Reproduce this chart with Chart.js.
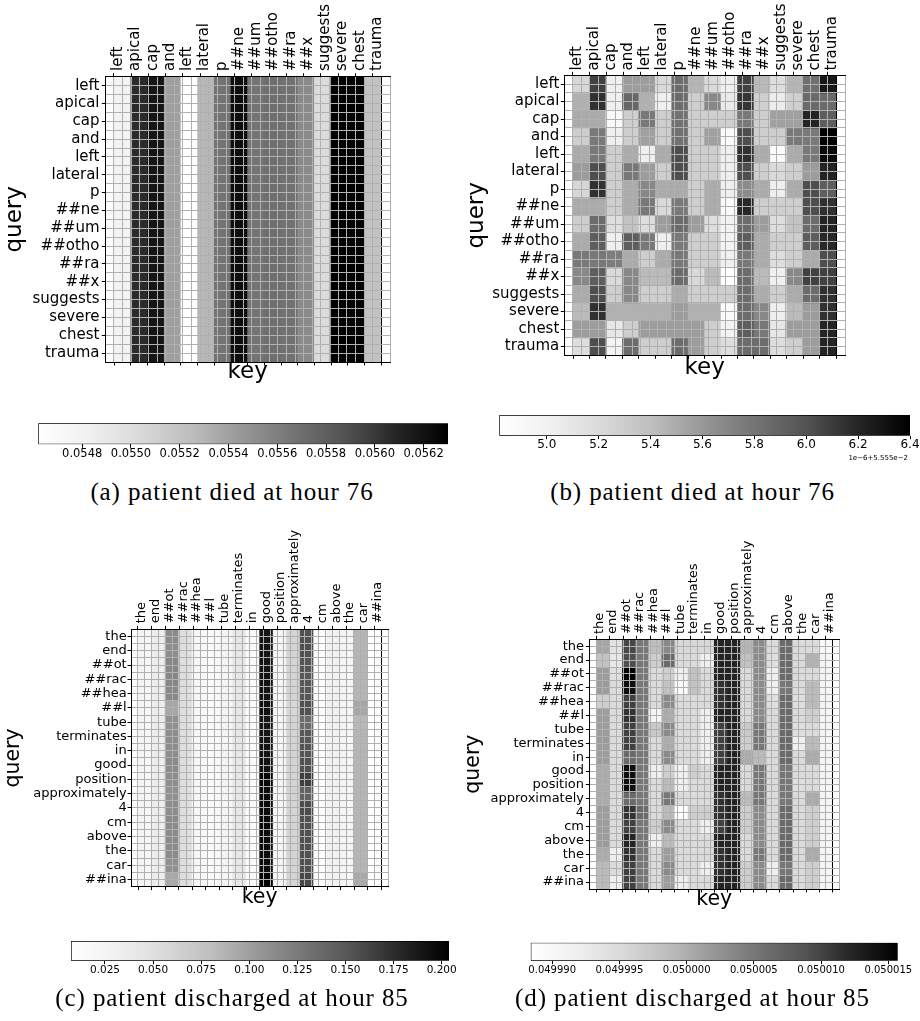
<!DOCTYPE html>
<html><head><meta charset="utf-8">
<script src="https://cdn.jsdelivr.net/npm/chart.js@4.4.0/dist/chart.umd.min.js"></script>
<style>
html,body{margin:0;padding:0;background:#fff;}
#root{position:relative;width:920px;height:1021px;overflow:hidden;background:#fff;}
canvas{position:absolute;}
.cap{position:absolute;font-family:"Liberation Serif",serif;font-size:25px;line-height:25px;letter-spacing:0.9px;color:#000;white-space:nowrap;transform:translateX(-50%);}
.off{position:absolute;font-family:"DejaVu Sans",sans-serif;font-size:7px;line-height:8px;color:#000;white-space:nowrap;transform:translateX(-100%);}
</style></head><body><div id="root"></div>
<script>
// ---------------- DATA ----------------
const tokensAB = ['left','apical','cap','and','left','lateral','p','##ne','##um','##otho','##ra','##x','suggests','severe','chest','trauma'];
const tokensCD = ['the','end','##ot','##rac','##hea','##l','tube','terminates','in','good','position','approximately','4','cm','above','the','car','##ina'];

// (a) attention weights (rows = query, cols = key)
const attnA = [
[0.05479,0.05606,0.05618,0.05541,0.05462,0.05528,0.05567,0.05622,0.05567,0.05570,0.05568,0.05553,0.05502,0.05630,0.05629,0.05521],
[0.05479,0.05606,0.05618,0.05541,0.05462,0.05528,0.05567,0.05622,0.05567,0.05570,0.05568,0.05553,0.05502,0.05630,0.05629,0.05521],
[0.05479,0.05606,0.05618,0.05541,0.05462,0.05528,0.05567,0.05622,0.05567,0.05570,0.05568,0.05553,0.05502,0.05630,0.05629,0.05521],
[0.05479,0.05606,0.05618,0.05541,0.05462,0.05528,0.05567,0.05622,0.05567,0.05570,0.05568,0.05553,0.05502,0.05630,0.05629,0.05521],
[0.05479,0.05606,0.05618,0.05541,0.05462,0.05528,0.05567,0.05622,0.05567,0.05570,0.05568,0.05553,0.05502,0.05630,0.05629,0.05521],
[0.05479,0.05606,0.05618,0.05541,0.05462,0.05528,0.05567,0.05622,0.05567,0.05570,0.05568,0.05553,0.05502,0.05630,0.05629,0.05521],
[0.05479,0.05606,0.05618,0.05541,0.05462,0.05528,0.05567,0.05622,0.05567,0.05570,0.05568,0.05553,0.05502,0.05630,0.05629,0.05521],
[0.05479,0.05606,0.05618,0.05541,0.05462,0.05528,0.05567,0.05622,0.05567,0.05570,0.05568,0.05553,0.05502,0.05630,0.05629,0.05521],
[0.05479,0.05606,0.05618,0.05541,0.05462,0.05528,0.05567,0.05622,0.05567,0.05570,0.05568,0.05553,0.05502,0.05630,0.05629,0.05521],
[0.05479,0.05606,0.05618,0.05541,0.05462,0.05528,0.05567,0.05622,0.05567,0.05570,0.05568,0.05553,0.05502,0.05630,0.05629,0.05521],
[0.05479,0.05606,0.05618,0.05541,0.05462,0.05528,0.05567,0.05622,0.05567,0.05570,0.05568,0.05553,0.05502,0.05630,0.05629,0.05521],
[0.05479,0.05606,0.05618,0.05541,0.05462,0.05528,0.05567,0.05622,0.05567,0.05570,0.05568,0.05553,0.05502,0.05630,0.05629,0.05521],
[0.05479,0.05606,0.05618,0.05541,0.05462,0.05528,0.05567,0.05622,0.05567,0.05570,0.05568,0.05553,0.05502,0.05630,0.05629,0.05521],
[0.05479,0.05606,0.05618,0.05541,0.05462,0.05528,0.05567,0.05622,0.05567,0.05570,0.05568,0.05553,0.05502,0.05630,0.05629,0.05521],
[0.05479,0.05606,0.05618,0.05541,0.05462,0.05528,0.05567,0.05622,0.05567,0.05570,0.05568,0.05553,0.05502,0.05630,0.05629,0.05521],
[0.05479,0.05606,0.05618,0.05541,0.05462,0.05528,0.05567,0.05622,0.05567,0.05570,0.05568,0.05553,0.05502,0.05630,0.05629,0.05521]
];
const rangeA = [0.05462, 0.05630];
const cbTicksA = [0.0548,0.0550,0.0552,0.0554,0.0556,0.0558,0.0560,0.0562];

// (b) attention weights, in units of 1e-6 with offset 5.555e-2
const attnB = [
[5.23,6.08,5.01,5.58,5.58,5.20,5.85,5.45,5.20,5.01,6.08,5.43,5.17,5.45,5.83,6.27],
[5.47,6.15,5.01,5.88,5.47,5.01,5.85,5.29,5.69,5.07,6.13,5.28,5.05,5.28,5.86,5.86],
[5.50,5.50,4.90,5.29,5.77,5.29,5.81,5.29,5.29,5.29,5.77,5.29,5.56,5.56,6.21,5.93],
[5.29,5.77,5.02,5.29,5.56,5.29,5.81,5.29,5.56,4.88,6.02,5.29,5.29,5.77,5.77,6.40],
[5.50,5.77,5.29,5.50,5.02,5.50,6.02,5.29,5.29,5.02,6.15,5.50,4.88,5.50,5.77,6.35],
[5.58,6.02,5.29,5.78,5.58,5.29,6.02,5.29,5.29,5.02,6.02,5.29,5.20,5.29,5.58,6.21],
[5.23,6.15,5.29,5.50,5.69,5.50,5.50,5.29,5.50,5.02,5.67,5.50,5.02,5.50,6.02,5.93],
[5.50,5.50,5.29,5.50,5.77,5.20,5.77,5.29,5.50,4.88,6.19,5.29,5.29,5.29,6.02,6.15],
[5.29,5.85,5.17,5.37,5.17,5.58,5.85,5.58,5.17,4.98,5.85,5.58,5.17,5.37,5.85,6.21],
[5.50,5.93,5.02,5.93,5.77,5.02,5.77,5.29,5.29,4.98,5.93,5.50,5.29,5.29,5.93,6.19],
[5.78,5.78,5.75,5.50,5.29,5.50,5.78,5.29,5.29,5.01,5.78,5.50,5.17,5.29,5.50,6.02],
[5.69,5.93,5.20,5.69,5.42,5.42,5.85,5.20,5.42,4.817,5.85,5.42,5.01,5.69,6.08,6.08],
[5.50,6.02,5.29,5.69,5.29,5.29,5.50,5.29,5.29,5.29,5.85,5.50,5.29,5.50,5.85,6.15],
[5.42,6.15,5.47,5.47,5.47,5.47,5.58,5.47,5.47,4.88,5.85,5.69,5.02,5.42,5.58,6.15],
[5.58,5.58,5.09,5.29,5.58,5.58,5.58,5.58,5.29,4.98,5.93,5.78,5.09,5.58,5.58,6.21],
[5.17,6.02,4.98,5.85,5.29,5.29,5.85,5.58,5.29,5.17,5.85,5.85,5.17,5.29,5.58,6.21]
];
const rangeB = [4.817, 6.40];
const cbTicksB = [5.0,5.2,5.4,5.6,5.8,6.0,6.2,6.4];
const offsetTextB = '1e\u22126+5.555e\u22122';

// (c) attention weights
const attnC = [
[0.023,0.035,0.113,0.051,0.021,0.015,0.023,0.041,0.015,0.190,0.023,0.060,0.155,0.012,0.029,0.023,0.086,0.008],
[0.023,0.035,0.112,0.051,0.021,0.015,0.023,0.041,0.015,0.190,0.023,0.060,0.156,0.012,0.029,0.023,0.086,0.008],
[0.023,0.035,0.116,0.051,0.021,0.015,0.023,0.041,0.015,0.191,0.023,0.060,0.152,0.012,0.029,0.023,0.086,0.008],
[0.023,0.035,0.117,0.051,0.021,0.015,0.023,0.041,0.015,0.192,0.023,0.060,0.150,0.012,0.029,0.023,0.086,0.008],
[0.023,0.035,0.115,0.051,0.021,0.015,0.023,0.041,0.015,0.190,0.023,0.060,0.150,0.012,0.029,0.023,0.086,0.008],
[0.023,0.035,0.095,0.051,0.021,0.015,0.023,0.041,0.015,0.193,0.023,0.058,0.155,0.014,0.031,0.023,0.095,0.009],
[0.024,0.035,0.110,0.051,0.021,0.015,0.026,0.041,0.015,0.188,0.023,0.060,0.135,0.012,0.029,0.023,0.084,0.008],
[0.023,0.035,0.112,0.051,0.021,0.015,0.023,0.041,0.015,0.190,0.023,0.060,0.150,0.012,0.029,0.023,0.086,0.008],
[0.023,0.035,0.112,0.051,0.021,0.015,0.023,0.041,0.015,0.191,0.023,0.060,0.152,0.012,0.029,0.023,0.086,0.008],
[0.023,0.035,0.113,0.051,0.021,0.015,0.023,0.041,0.015,0.192,0.023,0.060,0.155,0.012,0.029,0.023,0.086,0.008],
[0.023,0.035,0.112,0.051,0.021,0.015,0.023,0.041,0.015,0.200,0.023,0.060,0.165,0.012,0.029,0.023,0.086,0.008],
[0.023,0.035,0.110,0.051,0.021,0.015,0.023,0.041,0.015,0.195,0.023,0.062,0.143,0.012,0.029,0.023,0.086,0.008],
[0.023,0.035,0.112,0.051,0.021,0.015,0.023,0.041,0.015,0.197,0.023,0.060,0.158,0.012,0.029,0.023,0.086,0.008],
[0.023,0.035,0.113,0.051,0.021,0.015,0.023,0.041,0.015,0.198,0.023,0.060,0.155,0.012,0.029,0.023,0.086,0.008],
[0.023,0.035,0.113,0.051,0.021,0.015,0.023,0.041,0.015,0.197,0.023,0.060,0.155,0.012,0.029,0.023,0.086,0.008],
[0.023,0.035,0.113,0.051,0.021,0.015,0.023,0.041,0.015,0.196,0.023,0.060,0.155,0.012,0.029,0.023,0.086,0.008],
[0.023,0.035,0.110,0.051,0.021,0.015,0.023,0.041,0.015,0.195,0.023,0.060,0.155,0.012,0.029,0.023,0.086,0.008],
[0.023,0.035,0.095,0.051,0.021,0.015,0.023,0.041,0.015,0.2035,0.023,0.060,0.160,0.012,0.029,0.023,0.094,0.0073]
];
const rangeC = [0.00733, 0.2038];
const cbTicksC = [0.025,0.050,0.075,0.100,0.125,0.150,0.175,0.200];

// (d) attention weights
const attnD = [
[0.0500007,0.0499939,0.0500097,0.0500051,0.0499985,0.0500034,0.0499953,0.0499953,0.0499953,0.0500124,0.0500124,0.0499993,0.0500032,0.0499950,0.0500064,0.0499950,0.0499950,0.0499898],
[0.0499980,0.0499931,0.0500092,0.0500051,0.0499966,0.0500064,0.0499950,0.0499950,0.0499917,0.0500124,0.0500124,0.0499980,0.0500032,0.0499944,0.0500064,0.0499950,0.0499996,0.0499906],
[0.0500015,0.0499944,0.0500157,0.0500051,0.0499950,0.0499966,0.0499917,0.0499980,0.0499950,0.0500124,0.0500124,0.0499950,0.0500032,0.0499920,0.0500064,0.0499950,0.0499950,0.0499906],
[0.0500015,0.0499950,0.0500143,0.0500051,0.0499950,0.0499980,0.0499895,0.0499980,0.0499950,0.0500113,0.0500124,0.0499950,0.0500032,0.0499917,0.0500051,0.0499950,0.0499988,0.0499906],
[0.0499966,0.0499950,0.0500102,0.0500051,0.0499950,0.0500032,0.0499950,0.0499950,0.0499950,0.0500113,0.0500124,0.0499950,0.0500032,0.0499944,0.0500064,0.0499944,0.0499988,0.0499906],
[0.0500015,0.0499950,0.0500113,0.0500051,0.0499906,0.0500002,0.0499950,0.0499950,0.0499917,0.0500124,0.0500124,0.0499950,0.0500032,0.0499950,0.0500064,0.0499950,0.0499966,0.0499906],
[0.0500015,0.0499950,0.0500102,0.0500051,0.0499972,0.0500032,0.0499950,0.0499950,0.0499917,0.0500102,0.0500124,0.0499972,0.0500051,0.0499950,0.0500064,0.0499944,0.0499950,0.0499906],
[0.0500015,0.0499950,0.0500102,0.0500051,0.0499950,0.0500002,0.0499950,0.0499950,0.0499920,0.0500102,0.0500124,0.0499966,0.0500051,0.0499950,0.0500064,0.0499920,0.0499988,0.0499906],
[0.0500015,0.0499950,0.0500064,0.0500051,0.0499950,0.0500032,0.0499950,0.0499950,0.0499920,0.0500102,0.0500124,0.0500002,0.0499988,0.0499950,0.0500064,0.0499950,0.0500002,0.0499906],
[0.0500002,0.0499950,0.0500143,0.0500051,0.0499920,0.0499966,0.0499917,0.0499966,0.0499950,0.0500124,0.0500124,0.0499950,0.0500051,0.0499950,0.0500051,0.0499950,0.0499950,0.0499906],
[0.0500002,0.0499950,0.0500143,0.0500051,0.0499950,0.0499988,0.0499920,0.0499950,0.0499950,0.0500124,0.0500124,0.0499950,0.0500051,0.0499950,0.0500051,0.0499944,0.0499950,0.0499906],
[0.0500002,0.0499950,0.0500064,0.0500051,0.0499950,0.0500051,0.0499950,0.0499950,0.0499950,0.0500113,0.0500124,0.0499988,0.0500051,0.0499950,0.0500051,0.0499950,0.0500002,0.0499906],
[0.0500015,0.0499950,0.0500113,0.0500064,0.0499950,0.0499988,0.0499884,0.0499966,0.0499966,0.0500113,0.0500124,0.0499966,0.0500032,0.0499950,0.0500064,0.0499950,0.0499966,0.0499906],
[0.0500015,0.0499950,0.0500102,0.0500051,0.0499966,0.0500032,0.0499950,0.0499950,0.0499920,0.0500102,0.0500124,0.0499966,0.0500032,0.0499950,0.0500064,0.0499950,0.0499966,0.0499906],
[0.0500015,0.0499950,0.0500124,0.0500051,0.0499920,0.0499988,0.0499950,0.0499950,0.0499950,0.0500124,0.0500124,0.0499950,0.0500032,0.0499950,0.0500064,0.0499950,0.0499966,0.0499906],
[0.0500002,0.0499920,0.0500113,0.0500051,0.0499950,0.0500015,0.0499950,0.0499950,0.0499950,0.0500113,0.0500124,0.0499950,0.0500051,0.0499950,0.0500064,0.0499950,0.0500002,0.0499906],
[0.0499988,0.0499950,0.0500102,0.0500051,0.0499950,0.0500032,0.0499950,0.0499950,0.0499920,0.0500113,0.0500124,0.0499966,0.0500032,0.0499920,0.0500051,0.0499950,0.0499966,0.0499906],
[0.0499988,0.0499920,0.0500102,0.0500051,0.0499950,0.0500015,0.0499920,0.0499950,0.0499950,0.0500124,0.0500124,0.0499966,0.0500032,0.0499950,0.0500064,0.0499950,0.0499966,0.0499906]
];
const rangeD = [0.0499884, 0.0500157];
const cbTicksD = [0.049990,0.049995,0.050000,0.050005,0.050010,0.050015];

const captions = ['(a) patient died at hour 76','(b) patient died at hour 76','(c) patient discharged at hour 85','(d) patient discharged at hour 85'];

// ---------------- RENDERING ----------------
Chart.defaults.font.family = "'DejaVu Sans', sans-serif";
Chart.defaults.color = '#000';
const GREYS = [255,240,217,189,150,115,82,37,0]; // matplotlib "Greys"
function greys(t){
  t = Math.max(0, Math.min(1, t));
  const p = t*(GREYS.length-1);
  const k = Math.min(Math.floor(p), GREYS.length-2);
  const f = p-k;
  const g = Math.round(GREYS[k] + (GREYS[k+1]-GREYS[k])*f);
  return 'rgb('+g+','+g+','+g+')';
}
const root = document.getElementById('root');
function makeCanvas(b){
  const c = document.createElement('canvas');
  c.width = b.w; c.height = b.h;
  c.style.left = b.x+'px'; c.style.top = b.y+'px';
  c.style.width = b.w+'px'; c.style.height = b.h+'px';
  root.appendChild(c);
  return c;
}
function heatmap(o){
  const N = o.tokens.length;
  const halfSteps = []; for (let k=0;k<=2*N;k++) halfSteps.push(k/2);
  const centers = []; for (let k=0;k<N;k++) centers.push(k+0.5);
  const isCenter = v => Math.abs(v-Math.floor(v)-0.5) < 1e-9;
  const isEdge = v => v === 0 || v === N;
  const label = v => isCenter(v) ? o.tokens[Math.floor(v)] : '';
  const datasets = o.matrix.map((row,i) => ({
    label: o.tokens[i],
    data: row.map((v,j) => ({x: j+0.5, y: [i, i+1]})),
    backgroundColor: row.map(v => greys((v-o.range[0])/(o.range[1]-o.range[0]))),
    borderWidth: 0, grouped: false, barPercentage: 1, categoryPercentage: 1
  }));
  const tf = {family:"'DejaVu Sans'", size:o.tickFont};
  const ttl = {family:"'DejaVu Sans'", size:o.titleFont};
  const gridOpts = {
    drawOnChartArea: true, drawTicks: true, tickLength: 3.5, z: 1, lineWidth: 1,
    color: c => (c.tick && isEdge(c.tick.value)) ? '#000' : '#b0b0b0',
    tickColor: c => (c.tick && isCenter(c.tick.value)) ? '#000' : 'rgba(0,0,0,0)'
  };
  const borderOpts = {display:true, color:'#000', width:1, z:2};
  new Chart(makeCanvas(o.box), {
    type: 'bar',
    data: {datasets},
    options: {
      responsive:false, animation:false, events:[],
      layout:{padding:{left:0, top:0, bottom:0, right:o.padR}},
      plugins:{legend:{display:false}, tooltip:{enabled:false}},
      scales:{
        x:{type:'linear', position:'bottom', min:0, max:N,
           afterBuildTicks: s => { s.ticks = centers.map(v => ({value:v})); },
           afterFit: s => { s.height = o.botH; s.paddingLeft = 0; s.paddingRight = 0; },
           ticks:{autoSkip:false, maxRotation:0, callback:() => ''},
           grid:{drawOnChartArea:false, drawTicks:true, tickLength:3.5, tickColor:'#000', tickWidth:1},
           border: borderOpts,
           title:{display:true, text:'key', color:'#000', font:ttl, padding:{top:0, bottom:o.keyPad}}},
        xt:{type:'linear', position:'top', min:0, max:N,
           afterBuildTicks: s => { s.ticks = halfSteps.map(v => ({value:v})); },
           afterFit: s => { s.height = o.topH; s.paddingLeft = 0; s.paddingRight = 0; },
           ticks:{autoSkip:false, minRotation:90, maxRotation:90, padding:o.xPad, labelOffset:o.tickFont*1.2,
                  color:'#000', font:tf, callback: v => label(v)},
           grid: gridOpts, border: borderOpts},
        y:{type:'linear', position:'left', min:0, max:N, reverse:true,
           afterBuildTicks: s => { s.ticks = halfSteps.map(v => ({value:v})); },
           afterFit: s => { s.width = o.yW; s.paddingTop = 0; s.paddingBottom = 0; },
           ticks:{autoSkip:false, padding:o.yPad, color:'#000', font:tf, callback: v => label(v)},
           grid: gridOpts, border: borderOpts,
           title:{display:true, text:'query', color:'#000', font:ttl, padding:{top:o.queryPad, bottom:0}}}
      }
    }
  });
}
function colorbar(o){
  const grad = ctx => {
    const ch = ctx.chart, ca = ch.chartArea;
    if (!ca) return '#999';
    const g = ch.ctx.createLinearGradient(ca.left, 0, ca.right, 0);
    GREYS.forEach((c,k) => g.addColorStop(k/(GREYS.length-1), 'rgb('+c+','+c+','+c+')'));
    return g;
  };
  new Chart(makeCanvas(o.box), {
    type:'bar',
    data:{labels:['cb'], datasets:[{data:[[o.range[0], o.range[1]]], backgroundColor:grad,
          borderColor:'#000', borderWidth:1, borderSkipped:false, barPercentage:1, categoryPercentage:1}]},
    options:{
      indexAxis:'y', responsive:false, animation:false, events:[],
      layout:{padding:o.pad},
      plugins:{legend:{display:false}, tooltip:{enabled:false}},
      scales:{
        y:{display:false},
        x:{type:'linear', position:'bottom', min:o.range[0], max:o.range[1],
           afterBuildTicks: s => { s.ticks = o.ticks.map(v => ({value:v})); },
           afterFit: s => { s.height = o.botH; s.paddingLeft = 0; s.paddingRight = 0; },
           grid:{drawOnChartArea:false, drawTicks:true, tickLength:3.5, tickColor:'#000', tickWidth:1},
           border:{display:false},
           ticks:{autoSkip:false, maxRotation:0, minRotation:0, padding:o.tpad, color:'#000',
                  font:{family:"'DejaVu Sans'", size:o.fs, lineHeight:1}, callback: v => Number(v).toFixed(o.dec)}}
      }
    }
  });
}

heatmap({box:{x:0,y:0,w:400,h:395}, tokens:tokensAB, matrix:attnA, range:rangeA,
  yW:105.3, topH:76.7, botH:33, padR:10, tickFont:15, titleFont:23, xPad:2.2, yPad:2.3, keyPad:9.2, queryPad:1.2});
heatmap({box:{x:460,y:0,w:460,h:390}, tokens:tokensAB, matrix:attnB, range:rangeB,
  yW:104.3, topH:75.3, botH:34.7, padR:75, tickFont:15, titleFont:23, xPad:1.3, yPad:1.5, keyPad:8.5, queryPad:2.9});
heatmap({box:{x:0,y:530,w:400,h:385}, tokens:tokensCD, matrix:attnC, range:rangeC,
  yW:131, topH:99.3, botH:28.4, padR:11.7, tickFont:13, titleFont:20.5, xPad:2.5, yPad:0.8, keyPad:4.8, queryPad:1.3});
heatmap({box:{x:460,y:530,w:460,h:385}, tokens:tokensCD, matrix:attnD, range:rangeD,
  yW:129.3, topH:109.3, botH:26, padR:80.7, tickFont:13, titleFont:20.5, xPad:1.8, yPad:1.8, keyPad:3.1, queryPad:1.3});

colorbar({box:{x:28,y:413,w:440,h:62}, range:rangeA, ticks:cbTicksA, pad:{left:10.3,right:20,top:10.3,bottom:0}, botH:30.7, fs:11.5, tpad:0, dec:4});
colorbar({box:{x:480,y:405,w:440,h:65}, range:rangeB, ticks:cbTicksB, pad:{left:19.3,right:10,top:10,bottom:0}, botH:34.3, fs:12, tpad:0, dec:1});
colorbar({box:{x:50,y:930,w:420,h:60}, range:rangeC, ticks:cbTicksC, pad:{left:21,right:21,top:11,bottom:0}, botH:29.3, fs:10.5, tpad:1.2, dec:3});
colorbar({box:{x:510,y:930,w:410,h:60}, range:rangeD, ticks:cbTicksD, pad:{left:20.7,right:22.3,top:12.7,bottom:0}, botH:29.3, fs:10, tpad:1.6, dec:6});

const off = document.createElement('div');
off.className = 'off'; off.textContent = offsetTextB;
off.style.left = '908px'; off.style.top = '453.5px';
root.appendChild(off);

[[232,479],[692.5,479],[232,984.5],[692.5,984.5]].forEach((p,i) => {
  const d = document.createElement('div');
  d.className = 'cap'; d.textContent = captions[i];
  d.style.left = p[0]+'px'; d.style.top = p[1]+'px';
  root.appendChild(d);
});
</script>
</body></html>
